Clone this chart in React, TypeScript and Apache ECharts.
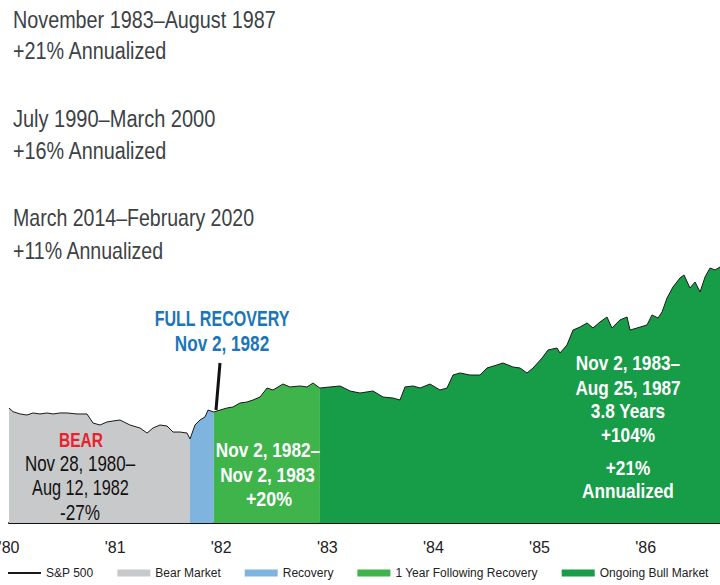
import React, { useEffect, useRef } from "react";
import * as echarts from "echarts";

// Years elapsed since Nov 28, 1980 (S&P 500 peak)
const yearsSincePeak = [
  0, 0.038, 0.104, 0.17, 0.226, 0.292, 0.358, 0.415, 0.481, 0.547, 0.641, 0.735,
  0.792, 0.858, 0.924, 0.98, 1.046, 1.14, 1.235, 1.301, 1.357, 1.423, 1.489, 1.546,
  1.612, 1.678, 1.706, 1.753, 1.8, 1.847, 1.876, 1.93, 1.989, 2.055, 2.111, 2.177,
  2.243, 2.3, 2.366, 2.432, 2.488, 2.582, 2.648, 2.743, 2.809, 2.865, 2.93, 3.025,
  3.12, 3.214, 3.308, 3.431, 3.525, 3.619, 3.685, 3.732, 3.808, 3.874, 3.968, 4.062,
  4.128, 4.185, 4.251, 4.345, 4.439, 4.505, 4.599, 4.656, 4.75, 4.816, 4.882, 4.939,
  5.024, 5.08, 5.165, 5.193, 5.259, 5.316, 5.382, 5.448, 5.504, 5.57, 5.636, 5.683,
  5.758, 5.825, 5.853, 5.919, 6.013, 6.06, 6.117, 6.155, 6.202, 6.258, 6.324, 6.362,
  6.418, 6.466, 6.513, 6.56, 6.607, 6.654, 6.701,
];

// S&P 500 index level
const sp500 = [
  140.5, 136.1, 133.3, 132.0, 134.5, 133.3, 134.5, 133.3, 134.5, 134.5, 133.3, 133.3,
  122.2, 119.8, 123.5, 124.7, 125.9, 119.8, 116.1, 110.0, 116.1, 119.8, 118.6, 111.2,
  111.2, 110.0, 102.7, 119.8, 125.9, 129.6, 138.1, 135.7, 138.1, 140.6, 141.8, 146.7,
  147.9, 150.4, 154.0, 165.0, 162.6, 169.9, 166.3, 167.5, 166.3, 171.1, 165.0, 166.3,
  167.5, 161.4, 158.9, 161.4, 154.0, 152.8, 150.4, 166.3, 167.5, 165.0, 169.9, 162.6,
  165.0, 180.9, 183.4, 180.9, 180.9, 189.5, 193.2, 195.6, 190.7, 189.5, 183.4, 189.5,
  201.7, 211.5, 213.9, 207.8, 217.6, 235.9, 239.6, 244.5, 238.4, 245.7, 251.8, 238.4,
  248.2, 251.8, 235.9, 238.4, 242.1, 254.3, 250.6, 258.0, 275.1, 288.5, 299.5, 303.2,
  287.3, 294.6, 282.4, 300.7, 311.7, 309.3, 313.0,
];

// Phase boundaries (years since peak)
const phaseNames = ["Bear Market", "Recovery", "1 Year Following Recovery", "Ongoing Bull Market"];
const phaseStart = [0, 1.706, 1.93, 2.93];
const phaseEnd = [1.706, 1.93, 2.93, 6.701];
const phaseColors = ["#c8c9cb", "#7fb4de", "#3eb44b", "#179c48"];

const tickYears = ["'80", "'81", "'82", "'83", "'84", "'85", "'86"];

const FONT = "'Liberation Sans', Arial, sans-serif";

export default function App() {
  const ref = useRef<HTMLDivElement>(null);

  useEffect(() => {
    if (!ref.current) return;
    const chart = echarts.init(ref.current, null, { renderer: "svg" });

    const all = yearsSincePeak.map((x, i) => [x, sp500[i]]);

    const areaSeries = phaseNames.map((name, p) => ({
      name,
      type: "line",
      data: all.filter((d) => d[0] >= phaseStart[p] - 1e-9 && d[0] <= phaseEnd[p] + 1e-9),
      symbol: "none",
      color: phaseColors[p],
      itemStyle: { color: phaseColors[p] },
      lineStyle: { width: 0, color: phaseColors[p] },
      areaStyle: { color: phaseColors[p], opacity: 1 },
      z: 2,
    }));

    const txt = (
      text: string,
      x: number,
      y: number,
      size: number,
      sx: number,
      color: string,
      weight: string = "normal",
      align: string = "center"
    ) => ({
      type: "text",
      x,
      y,
      scaleX: sx,
      z: 100,
      style: {
        text,
        fill: color,
        font: `${weight} ${size}px ${FONT}`,
        textAlign: align,
        textVerticalAlign: "middle",
      },
    });

    const topColor = "#3d4245";
    const W = "#ffffff";

    chart.setOption({
      animation: false,
      backgroundColor: "#ffffff",
      grid: { left: 9, right: 0, top: 236.7, bottom: 62, containLabel: false, outerBoundsMode: "none" },
      xAxis: {
        type: "value",
        min: 0,
        max: 6.701,
        interval: 1,
        axisLine: { show: true, lineStyle: { color: "#111", width: 2 } },
        axisTick: { show: false },
        splitLine: { show: false },
        axisLabel: {
          margin: 16,
          fontSize: 16,
          fontFamily: FONT,
          color: "#222",
          showMaxLabel: false,
          formatter: (v: number) =>
            Math.abs(v - Math.round(v)) < 1e-6 && tickYears[Math.round(v)] ? tickYears[Math.round(v)] : "",
        },
      },
      yAxis: { type: "value", min: 0, max: 350, show: false, splitLine: { show: false } },
      legend: {
        left: 7,
        top: 567,
        itemWidth: 33,
        itemHeight: 7,
        itemGap: 24,
        padding: 0,
        selectedMode: false,
        textStyle: { fontSize: 12, fontFamily: FONT, color: "#222" },
        data: [
          { name: "S&P 500", itemStyle: { opacity: 0 } },
          ...phaseNames.map((n) => ({ name: n, icon: "rect", itemStyle: { borderWidth: 0 } })),
        ],
      },
      series: [
        ...areaSeries,
        {
          name: "S&P 500",
          type: "line",
          data: all,
          symbol: "none",
          color: "#1a1a1a",
          lineStyle: { width: 1, color: "#1a1a1a" },
          z: 3,
        },
      ],
      graphic: [
        txt("November 1983–August 1987", 13, 20, 23, 0.86, topColor, "normal", "left"),
        txt("+21% Annualized", 13, 51.5, 23, 0.86, topColor, "normal", "left"),
        txt("July 1990–March 2000", 13, 119, 23, 0.87, topColor, "normal", "left"),
        txt("+16% Annualized", 13, 151.5, 23, 0.86, topColor, "normal", "left"),
        txt("March 2014–February 2020", 13, 218.5, 23, 0.85, topColor, "normal", "left"),
        txt("+11% Annualized", 13, 251.5, 23, 0.85, topColor, "normal", "left"),

        txt("FULL RECOVERY", 222, 318.5, 22, 0.73, "#1b75bb", "bold"),
        txt("Nov 2, 1982", 222, 343.5, 22, 0.78, "#1b75bb", "bold"),
        {
          type: "line",
          z: 100,
          shape: { x1: 220, y1: 363, x2: 216, y2: 410 },
          style: { stroke: "#111", lineWidth: 3 },
        },

        txt("BEAR", 81, 439.5, 21, 0.74, "#e8212b", "bold"),
        txt("Nov 28, 1980–", 80, 463.5, 22, 0.77, "#111"),
        txt("Aug 12, 1982", 80.5, 487.5, 22, 0.74, "#111"),
        txt("-27%", 80, 512.5, 22, 0.78, "#111"),

        txt("Nov 2, 1982–", 268, 449.5, 21, 0.82, W, "bold"),
        txt("Nov 2, 1983", 267.5, 474.5, 21, 0.82, W, "bold"),
        txt("+20%", 269, 498.5, 21, 0.85, W, "bold"),

        txt("Nov 2, 1983–", 628, 362.5, 21, 0.82, W, "bold"),
        txt("Aug 25, 1987", 628, 387.5, 21, 0.82, W, "bold"),
        txt("3.8 Years", 628, 410.5, 21, 0.82, W, "bold"),
        txt("+104%", 628, 435, 21, 0.82, W, "bold"),
        txt("+21%", 628, 467.5, 21, 0.82, W, "bold"),
        txt("Annualized", 628, 490.5, 21, 0.82, W, "bold"),
      ],
    });

    return () => chart.dispose();
  }, []);

  return (
    <div
      ref={ref}
      style={{ position: "fixed", left: 0, top: 0, width: 720, height: 585, background: "#fff" }}
    />
  );
}
